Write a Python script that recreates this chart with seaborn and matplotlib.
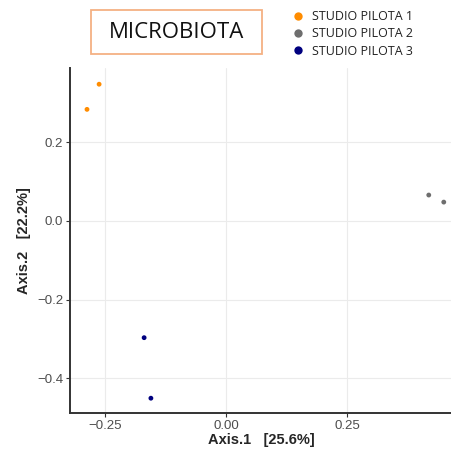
import pandas as pd
import seaborn as sns
import matplotlib.pyplot as plt
from matplotlib.lines import Line2D
from matplotlib.patches import Rectangle

# PCoA coordinates
groups = ["STUDIO PILOTA 1", "STUDIO PILOTA 1",
          "STUDIO PILOTA 2", "STUDIO PILOTA 2",
          "STUDIO PILOTA 3", "STUDIO PILOTA 3"]
axis1 = [-0.262, -0.287, 0.419, 0.450, -0.169, -0.155]
axis2 = [0.348, 0.284, 0.066, 0.048, -0.297, -0.451]
group_names = ["STUDIO PILOTA 1", "STUDIO PILOTA 2", "STUDIO PILOTA 3"]
group_colors = ["#FF8C00", "#6E6E6E", "#00007F"]
x_ticks = [-0.25, 0.0, 0.25]
x_tick_labels = ["\u22120.25", "0.00", "0.25"]
y_ticks = [-0.4, -0.2, 0.0, 0.2]
y_tick_labels = ["\u22120.4", "\u22120.2", "0.0", "0.2"]

df = pd.DataFrame({"Axis.1": axis1, "Axis.2": axis2, "group": groups})
palette = dict(zip(group_names, group_colors))

sns.set_style("white")
plt.rcParams["font.family"] = ["Liberation Sans", "DejaVu Sans"]

fig = plt.figure(figsize=(4.52, 4.54), dpi=100)
ax = fig.add_axes([0.155, 0.090, 0.845, 0.760])

sns.scatterplot(data=df, x="Axis.1", y="Axis.2", hue="group", palette=palette,
                s=12, linewidth=0, legend=False, ax=ax, zorder=3)

ax.set_xlim(-0.322, 0.467)
ax.set_ylim(-0.489, 0.389)
ax.set_xticks(x_ticks)
ax.set_xticklabels(x_tick_labels)
ax.set_yticks(y_ticks)
ax.set_yticklabels(y_tick_labels)
ax.grid(True, color="#EBEBEB", linewidth=0.8)
ax.set_axisbelow(True)

for side in ["top", "right"]:
    ax.spines[side].set_visible(False)
for side in ["left", "bottom"]:
    ax.spines[side].set_color("#333333")
    ax.spines[side].set_linewidth(1.4)

ax.tick_params(axis="both", which="major", direction="out", length=3, width=0.8,
               color="#333333", labelcolor="#4D4D4D", labelsize=9.5, pad=2,
               bottom=True, left=True)

ax.set_xlabel("Axis.1   [25.6%]", fontsize=10.5, fontweight="bold", labelpad=1)
ax.set_ylabel("Axis.2   [22.2%]", fontsize=10.5, fontweight="bold", labelpad=4)

# title box
fig.add_artist(Rectangle((0.201, 0.881), 0.379, 0.097, transform=fig.transFigure,
                         facecolor="white", edgecolor="#F4B183", linewidth=1.3))
fig.text(0.3905, 0.929, "MICROBIOTA", ha="center", va="center", fontsize=16,
         family=["Open Sans", "DejaVu Sans"], color="#111111")

# legend
handles = [Line2D([0], [0], marker="o", linestyle="", markersize=6,
                  markerfacecolor=c, markeredgewidth=0) for c in group_colors]
leg = fig.legend(handles, group_names, loc="upper left",
                 bbox_to_anchor=(0.627, 0.997), frameon=False,
                 prop={"family": ["Open Sans", "DejaVu Sans"], "size": 9},
                 handletextpad=0.55, labelspacing=0.35, handlelength=1.0,
                 borderaxespad=0.3)
for t in leg.get_texts():
    t.set_color("#222222")

plt.savefig("out.png", dpi=100)
